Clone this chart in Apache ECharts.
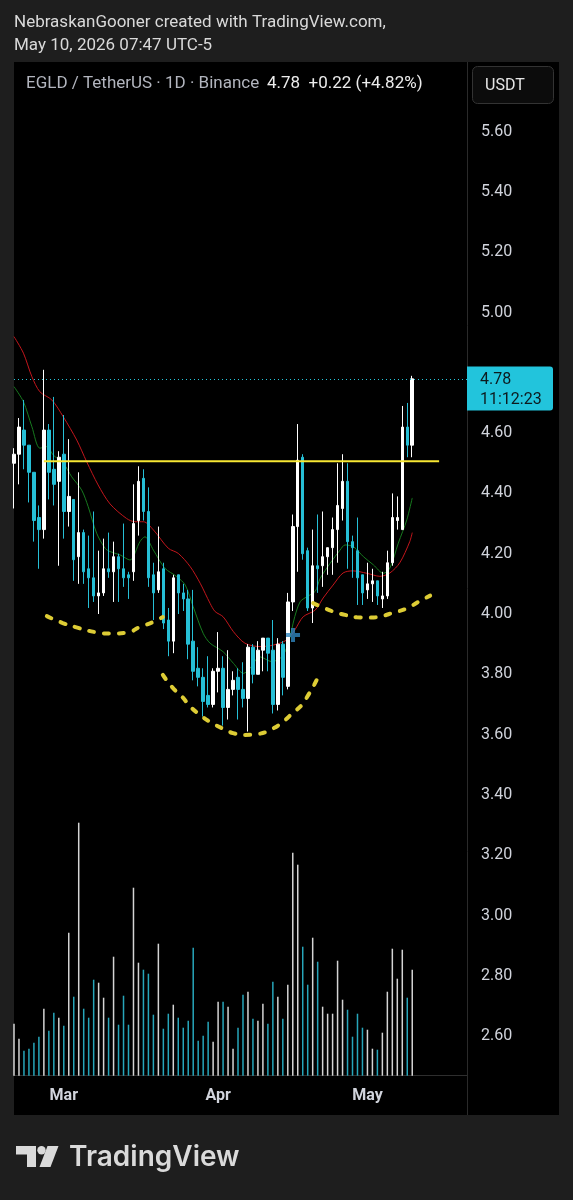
<!DOCTYPE html>
<html>
<head>
<meta charset="utf-8">
<title>EGLD / TetherUS 1D</title>
<script src="https://cdn.jsdelivr.net/npm/echarts@6/dist/echarts.min.js"></script>
<style>
  html, body { margin: 0; padding: 0; background: #1e1e1e; }
  #chart { width: 573px; height: 1200px; }
</style>
</head>
<body>
<div id="chart"></div>
<script>
// daily candles, 2026-02-19 .. 2026-05-10 (81 days), then empty space to the right
const firstDay = Date.UTC(2026, 1, 19);
const slotCount = 92;
const monthNames = { '03': 'Mar', '04': 'Apr', '05': 'May' };

const opens  = [4.50,4.53,4.61,4.56,4.47,4.32,4.28,4.61,4.48,4.44,4.53,4.34,4.38,4.19,4.27,4.15,4.12,4.06,4.07,4.15,
                4.14,4.19,4.15,4.13,4.14,4.31,4.45,4.34,4.13,4.08,4.15,3.98,3.91,4.13,4.07,4.05,3.91,3.82,3.79,3.73,
                3.70,3.81,3.82,3.69,3.75,3.79,3.75,3.72,3.89,3.80,3.88,3.92,3.88,3.70,3.90,3.76,4.04,4.29,4.52,4.21,
                4.02,4.16,4.16,4.19,4.22,4.28,4.35,4.44,4.24,4.21,4.13,4.08,4.10,4.11,4.05,4.06,4.17,4.31,4.28,4.62,4.56];
const closes = [4.53,4.62,4.56,4.47,4.31,4.28,4.61,4.47,4.43,4.52,4.34,4.39,4.18,4.27,4.14,4.12,4.06,4.07,4.15,4.14,
                4.19,4.15,4.12,4.12,4.30,4.44,4.34,4.12,4.07,4.14,3.97,3.91,4.12,4.07,4.05,3.90,3.81,3.79,3.71,3.70,
                3.81,3.82,3.69,3.75,3.78,3.75,3.72,3.89,3.80,3.88,3.92,3.87,3.70,3.90,3.79,4.04,4.29,4.51,4.20,4.02,
                4.16,4.15,4.19,4.22,4.28,4.36,4.44,4.24,4.22,4.12,4.07,4.10,4.11,4.06,4.06,4.17,4.32,4.32,4.62,4.56,4.78];
const lows   = [4.35,4.43,4.48,4.37,4.24,4.15,4.25,4.38,4.36,4.16,4.25,4.29,4.11,4.10,4.10,4.02,4.04,4.00,4.06,4.12,
                4.04,4.04,4.09,4.05,4.11,4.26,4.31,4.09,3.98,4.07,3.95,3.86,3.87,4.00,4.01,3.85,3.78,3.76,3.66,3.69,
                3.69,3.74,3.63,3.65,3.73,3.65,3.69,3.61,3.77,3.80,3.81,3.81,3.67,3.68,3.73,3.75,4.01,4.14,4.18,4.01,
                3.97,4.07,4.09,4.13,4.13,4.17,4.31,4.15,4.12,4.03,4.03,4.05,4.04,4.03,4.02,4.05,4.16,4.28,4.28,4.52,4.52];
const highs  = [4.55,4.65,4.71,4.56,4.47,4.36,4.81,4.63,4.72,4.54,4.66,4.58,4.38,4.47,4.28,4.26,4.34,4.21,4.25,4.27,
                4.24,4.20,4.30,4.14,4.43,4.49,4.48,4.42,4.17,4.29,4.17,4.02,4.13,4.13,4.10,4.08,4.08,3.89,3.82,3.86,
                3.82,3.94,3.86,3.88,3.81,3.82,3.84,3.90,3.90,3.91,3.92,3.92,3.98,3.92,3.91,4.07,4.33,4.63,4.53,4.22,
                4.28,4.33,4.34,4.22,4.32,4.50,4.53,4.50,4.26,4.32,4.13,4.17,4.15,4.11,4.14,4.21,4.40,4.39,4.69,4.70,4.79];
// volume, thousands of EGLD
const volumes = [52,37,25,27,33,39,67,45,63,58,50,143,79,253,67,58,96,93,78,58,
                 119,51,80,51,188,113,106,102,61,132,47,62,71,58,48,55,128,35,40,54,
                 34,74,74,69,27,48,81,84,57,55,72,52,94,79,57,91,223,211,129,91,
                 138,114,69,62,62,115,76,66,39,62,48,46,27,26,43,84,127,97,126,78,106];

// moving averages as drawn: [day index, price]
const maFast = [[0,4.754],[1.9,4.704],[3.6,4.621],[5.2,4.550],[6.6,4.555],[7.9,4.527],[9.9,4.500],[11.6,4.455],
                [13.6,4.411],[14.9,4.356],[16.6,4.268],[18.3,4.218],[19.3,4.207],[21.3,4.196],[23.3,4.179],[25.3,4.240],
                [26.3,4.256],[28.0,4.212],[30.3,4.152],[32.7,4.124],[34.4,4.096],[36.0,4.024],[38.0,3.936],[39.4,3.903],
                [42.0,3.875],[44.1,3.836],[46.1,3.803],[47.4,3.820],[49.4,3.858],[51.8,3.842],[53.8,3.858],[55.1,3.903],
                [56.4,3.991],[57.5,4.041],[58.8,4.057],[60.5,4.075],[61.5,4.118],[63.5,4.168],[65.5,4.212],[66.5,4.229],
                [68.2,4.223],[70.2,4.190],[72.2,4.163],[74.2,4.135],[75.5,4.152],[77.2,4.235],[78.9,4.312],[80,4.385]];
const maSlow = [[0,4.920],[1.9,4.865],[3.6,4.787],[5.2,4.737],[7.6,4.710],[9.9,4.654],[12.6,4.577],[14.6,4.505],
                [16.9,4.428],[19.3,4.365],[22.6,4.317],[24.3,4.306],[26.0,4.306],[28.0,4.279],[31.0,4.218],[33.0,4.201],
                [35.4,4.157],[37.4,4.102],[39.4,4.035],[40.4,4.008],[42.0,3.991],[44.1,3.941],[46.4,3.903],[49.4,3.892],
                [52.1,3.897],[54.8,3.914],[56.4,3.947],[58.1,3.991],[60.5,4.013],[62.1,4.053],[64.1,4.096],[66.1,4.136],
                [68.1,4.143],[70.9,4.135],[73.5,4.125],[75.5,4.136],[77.5,4.170],[79.5,4.240],[80,4.270]];

// drawings: neckline and inverse head & shoulders arcs
const neckline = [[6.0,4.507],[85.4,4.507]];
const leftShoulder = [[6.6,3.993],[9.8,3.970],[12.9,3.954],[16.3,3.940],[19.3,3.935],[22.7,3.938],[25.3,3.957],[27.9,3.973],[29.9,3.990]];
const headArc = [[29.9,3.798],[31.9,3.755],[33.8,3.725],[35.4,3.693],[37.4,3.665],[39.4,3.642],[41.8,3.621],[44.0,3.605],
                 [46.4,3.599],[49.0,3.602],[51.4,3.615],[54.0,3.642],[56.0,3.672],[57.8,3.698],[59.1,3.731],[60.3,3.765],[61.3,3.798]];
const rightShoulder = [[60.1,4.036],[64.1,4.008],[66.5,3.997],[68.9,3.989],[71.5,3.988],[73.9,3.993],[76.1,4.004],[79.0,4.019],[81.2,4.040],[83.6,4.061]];
const crossMark = [[56.05,3.930]];

const lastClose = closes[closes.length - 1];
const upColor = '#ffffff';
const downColor = '#26bfd6';
const font = 'Roboto';

const days = [];
for (let i = 0; i < slotCount; i++) {
  days.push(new Date(firstDay + i * 864e5).toISOString().slice(0, 10));
}

const candleData = opens.map((o, i) => [o, closes[i], lows[i], highs[i]]);
const volumeData = volumes.map((v, i) => ({
  value: v,
  itemStyle: { color: closes[i] >= opens[i] ? 'rgba(235,235,235,0.9)' : '#27a6ba' }
}));

const chart = echarts.init(document.getElementById('chart'));

function arc(data) {
  return {
    type: 'line', xAxisIndex: 2, yAxisIndex: 0, data: data, smooth: 0.5,
    symbol: 'none', silent: true, z: 6,
    lineStyle: { color: '#ddcc35', width: 4, type: [5, 10], cap: 'round' }
  };
}

chart.setOption({
  animation: false,
  backgroundColor: '#1e1e1e',
  grid: [
    { left: 14, right: 106, top: 71.3, height: 1025.1 },
    { left: 14, right: 106, top: 775.7, height: 300 }
  ],
  xAxis: [
    { type: 'category', gridIndex: 0, data: days, boundaryGap: false, show: false },
    {
      type: 'category', gridIndex: 1, data: days, boundaryGap: false,
      axisLine: { lineStyle: { color: '#2e2e2e' } },
      axisTick: { show: false },
      splitLine: { show: false },
      axisLabel: {
        interval: (i, v) => v.endsWith('-01'),
        formatter: v => monthNames[v.slice(5, 7)] || '',
        color: '#d1d4dc', fontSize: 16, fontWeight: 'bold', fontFamily: font, margin: 12
      }
    },
    { type: 'value', gridIndex: 0, min: 0, max: slotCount - 1, show: false }
  ],
  yAxis: [
    {
      type: 'value', gridIndex: 0, position: 'right', min: 2.4, max: 5.8, interval: 0.2,
      axisLine: { show: false }, axisTick: { show: false }, splitLine: { show: false },
      axisLabel: {
        color: '#d1d4dc', fontSize: 16, fontFamily: font, margin: 14,
        padding: [4, 0, 0, 0],
        showMinLabel: false, showMaxLabel: false,
        // the last-price tag covers the nearest tick label
        formatter: v => (Math.abs(v - lastClose) < 0.06 ? '' : v.toFixed(2))
      }
    },
    { type: 'value', gridIndex: 1, min: 0, max: 300, show: false }
  ],
  series: [
    {
      type: 'bar', xAxisIndex: 1, yAxisIndex: 1, data: volumeData,
      barWidth: 1.5, silent: true, z: 1
    },
    {
      type: 'line', xAxisIndex: 2, yAxisIndex: 0, data: maSlow, smooth: 0.3,
      symbol: 'none', silent: true, z: 2,
      lineStyle: { color: '#c3161c', width: 1 }
    },
    {
      type: 'line', xAxisIndex: 2, yAxisIndex: 0, data: maFast, smooth: 0.3,
      symbol: 'none', silent: true, z: 2,
      lineStyle: { color: '#177a1f', width: 1 }
    },
    {
      type: 'candlestick', xAxisIndex: 0, yAxisIndex: 0, data: candleData,
      barWidth: 3, z: 4,
      itemStyle: {
        color: upColor, color0: downColor,
        borderColor: upColor, borderColor0: downColor, borderWidth: 1
      },
      markLine: {
        silent: true, symbol: ['none', 'none'],
        label: { show: false },
        lineStyle: { color: '#26c6da', type: [1, 3], width: 1 },
        data: [{ yAxis: lastClose }]
      }
    },
    {
      type: 'line', xAxisIndex: 2, yAxisIndex: 0, data: neckline,
      symbol: 'none', silent: true, z: 5,
      lineStyle: { color: '#f7e733', width: 2 }
    },
    arc(leftShoulder),
    arc(headArc),
    arc(rightShoulder),
    {
      type: 'scatter', xAxisIndex: 2, yAxisIndex: 0, data: crossMark,
      symbol: 'path://M5,0H9V5H14V9H9V14H5V9H0V5H5Z', symbolSize: 14,
      silent: true, z: 7,
      itemStyle: { color: '#2f86bf' }
    }
  ]
});

const tagY = chart.convertToPixel({ yAxisIndex: 0 }, lastClose);
const headFont = '17px ' + font;

chart.setOption({
  graphic: [
    { type: 'rect', z: -10, shape: { x: 14, y: 62, width: 545, height: 1053 }, style: { fill: '#000000' } },
    { type: 'line', z: 50, shape: { x1: 467.5, y1: 62, x2: 467.5, y2: 1115 }, style: { stroke: '#2a2a2a', lineWidth: 1 } },
    { type: 'text', z: 50, x: 14, y: 22.5, style: { text: 'NebraskanGooner created with TradingView.com,', fill: '#d9d9d9', font: headFont, verticalAlign: 'middle' } },
    { type: 'text', z: 50, x: 14, y: 45.5, style: { text: 'May 10, 2026 07:47 UTC-5', fill: '#d9d9d9', font: headFont, verticalAlign: 'middle' } },
    { type: 'text', z: 50, x: 26, y: 83.5, style: { text: 'EGLD / TetherUS · 1D · Binance', fill: '#b2b5be', font: headFont, verticalAlign: 'middle' } },
    { type: 'text', z: 50, x: 267, y: 83.5, style: { text: lastClose.toFixed(2) + '  +0.22 (+4.82%)', fill: '#ececec', font: headFont, verticalAlign: 'middle' } },
    { type: 'rect', z: 50, shape: { x: 472.5, y: 66.5, width: 81, height: 37, r: 5 }, style: { fill: '#0c0c0c', stroke: '#333333', lineWidth: 1 } },
    { type: 'text', z: 51, x: 485, y: 86, style: { text: 'USDT', fill: '#e6e6e6', font: '16px ' + font, verticalAlign: 'middle' } },
    { type: 'rect', z: 50, shape: { x: 467, y: tagY - 12.3, width: 86, height: 44, r: [0, 3, 3, 0] }, style: { fill: '#22c4dc' } },
    { type: 'text', z: 51, x: 480, y: tagY + 1, style: { text: lastClose.toFixed(2), fill: '#0d1a1e', font: '16px ' + font, verticalAlign: 'middle' } },
    { type: 'text', z: 51, x: 480, y: tagY + 21, style: { text: '11:12:23', fill: '#0d1a1e', font: '16px ' + font, verticalAlign: 'middle' } },
    // TradingView logo
    { type: 'polygon', z: 50, shape: { points: [[16, 1146], [36, 1146], [36, 1167], [27, 1167], [27, 1154.5], [16, 1154.5]] }, style: { fill: '#dadada' } },
    { type: 'circle', z: 50, shape: { cx: 41.5, cy: 1150.3, r: 4.2 }, style: { fill: '#dadada' } },
    { type: 'polygon', z: 50, shape: { points: [[47.5, 1146], [58.5, 1146], [50.5, 1167], [39.5, 1167]] }, style: { fill: '#dadada' } },
    { type: 'text', z: 50, x: 69, y: 1158, style: { text: 'TradingView', fill: '#dadada', font: '600 28px Inter', verticalAlign: 'middle' } }
  ]
});

window.addEventListener('resize', function () {
  chart.resize();
});
</script>
</body>
</html>
